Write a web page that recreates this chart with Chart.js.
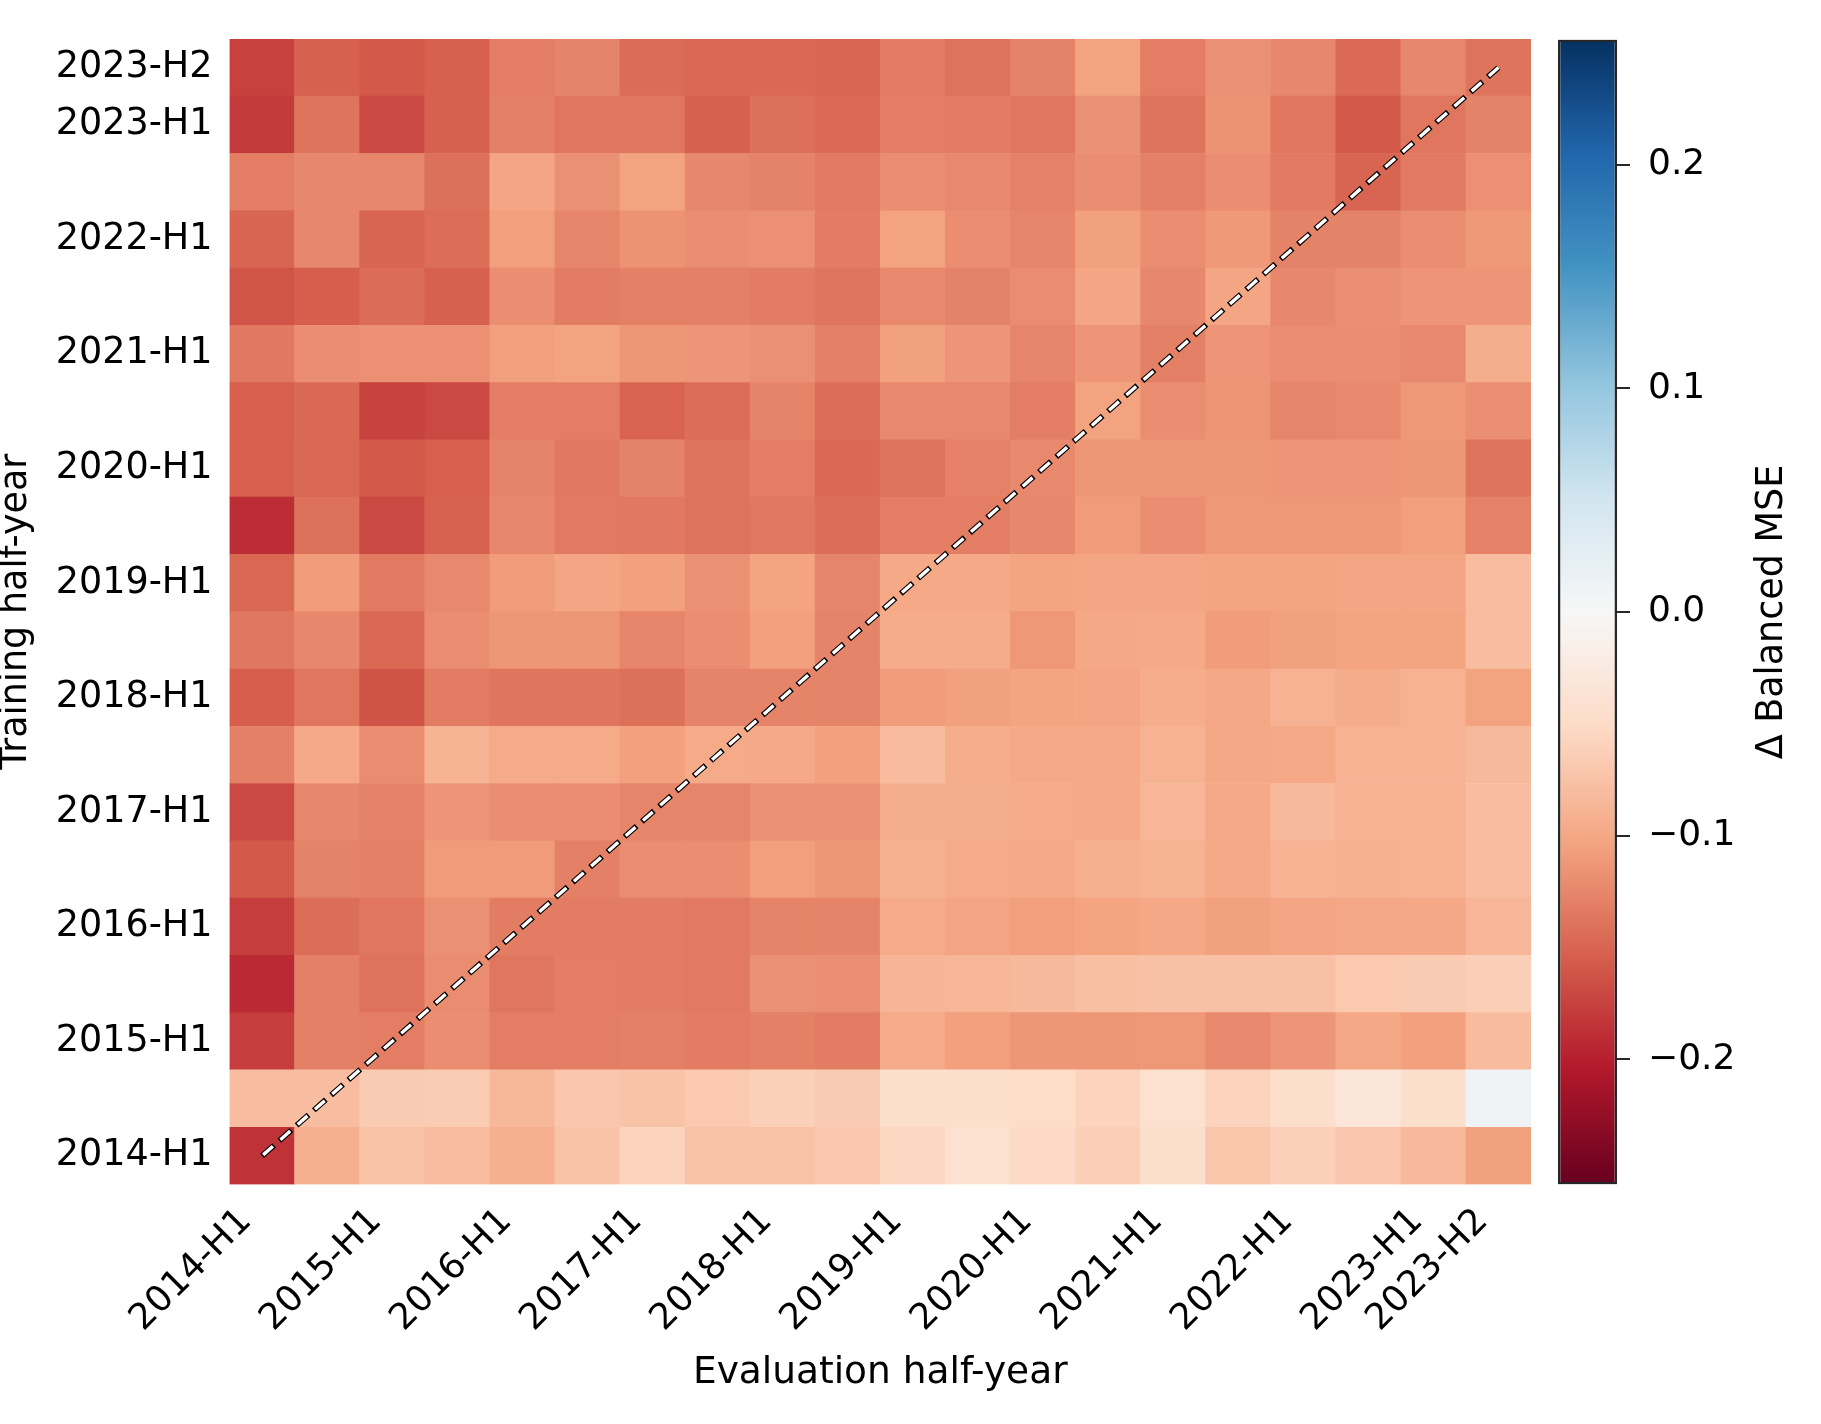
<!DOCTYPE html>
<html>
<head>
<meta charset="utf-8">
<script src="https://cdn.jsdelivr.net/npm/chart.js@4/dist/chart.umd.min.js"></script>
<style>
  html, body { margin: 0; padding: 0; background: #ffffff; }
  #wrap { position: relative; width: 1821px; height: 1424px; overflow: hidden; background: #ffffff; }
  #main { position: absolute; left: 0; top: 0; }
  #cbar { position: absolute; left: 1540px; top: 0; }
</style>
</head>
<body>
<div id="wrap">
  <canvas id="main" width="1821" height="1424"></canvas>
  <canvas id="cbar" width="281" height="1424"></canvas>
</div>
<script>
// ---------------- data ----------------
// half-year periods, oldest first (x: evaluation, y: training, bottom = oldest)
const periods = ['2014-H1','2014-H2','2015-H1','2015-H2','2016-H1','2016-H2','2017-H1','2017-H2',
                 '2018-H1','2018-H2','2019-H1','2019-H2','2020-H1','2020-H2','2021-H1','2021-H2',
                 '2022-H1','2022-H2','2023-H1','2023-H2'];
const evalLabels = periods;
const trainLabels = periods;
const xTickLabels = ['2014-H1','2015-H1','2016-H1','2017-H1','2018-H1','2019-H1','2020-H1','2021-H1','2022-H1','2023-H1','2023-H2'];
const yTickLabels = ['2014-H1','2015-H1','2016-H1','2017-H1','2018-H1','2019-H1','2020-H1','2021-H1','2022-H1','2023-H1','2023-H2'];

// Δ Balanced MSE, one row per training half-year, listed top (2023-H2) to bottom (2014-H1);
// columns = evaluation half-years 2014-H1 .. 2023-H2
const deltaMSE = [
  /* 2023-H2 */ [-0.175,-0.153,-0.158,-0.153,-0.131,-0.127,-0.145,-0.147,-0.147,-0.149,-0.133,-0.140,-0.128,-0.104,-0.131,-0.117,-0.124,-0.146,-0.124,-0.139],
  /* 2023-H1 */ [-0.180,-0.139,-0.170,-0.153,-0.130,-0.137,-0.137,-0.153,-0.142,-0.146,-0.131,-0.133,-0.137,-0.117,-0.139,-0.116,-0.137,-0.158,-0.137,-0.128],
  /* 2022-H2 */ [-0.132,-0.124,-0.124,-0.142,-0.102,-0.117,-0.104,-0.124,-0.128,-0.134,-0.120,-0.123,-0.129,-0.120,-0.130,-0.120,-0.134,-0.150,-0.134,-0.118],
  /* 2022-H1 */ [-0.150,-0.124,-0.150,-0.143,-0.107,-0.126,-0.116,-0.120,-0.118,-0.133,-0.104,-0.120,-0.126,-0.105,-0.120,-0.111,-0.128,-0.128,-0.120,-0.111],
  /* 2021-H2 */ [-0.162,-0.155,-0.145,-0.153,-0.120,-0.133,-0.130,-0.130,-0.133,-0.138,-0.123,-0.128,-0.121,-0.101,-0.124,-0.102,-0.124,-0.119,-0.114,-0.114],
  /* 2021-H1 */ [-0.135,-0.120,-0.118,-0.118,-0.107,-0.104,-0.113,-0.114,-0.117,-0.130,-0.105,-0.114,-0.126,-0.114,-0.130,-0.114,-0.121,-0.120,-0.123,-0.094],
  /* 2020-H2 */ [-0.154,-0.147,-0.175,-0.170,-0.131,-0.131,-0.151,-0.143,-0.127,-0.144,-0.123,-0.123,-0.132,-0.104,-0.120,-0.115,-0.126,-0.123,-0.112,-0.119],
  /* 2020-H1 */ [-0.154,-0.148,-0.158,-0.154,-0.127,-0.135,-0.128,-0.139,-0.131,-0.147,-0.139,-0.129,-0.123,-0.113,-0.113,-0.113,-0.114,-0.114,-0.113,-0.139],
  /* 2019-H2 */ [-0.190,-0.141,-0.170,-0.152,-0.124,-0.134,-0.135,-0.140,-0.135,-0.144,-0.132,-0.132,-0.124,-0.110,-0.120,-0.112,-0.112,-0.112,-0.107,-0.129],
  /* 2019-H1 */ [-0.148,-0.108,-0.134,-0.123,-0.108,-0.101,-0.106,-0.117,-0.103,-0.126,-0.099,-0.099,-0.103,-0.102,-0.101,-0.103,-0.103,-0.102,-0.102,-0.080],
  /* 2018-H2 */ [-0.136,-0.124,-0.147,-0.120,-0.113,-0.113,-0.126,-0.120,-0.106,-0.127,-0.096,-0.096,-0.112,-0.100,-0.099,-0.108,-0.105,-0.103,-0.103,-0.080],
  /* 2018-H1 */ [-0.155,-0.137,-0.163,-0.133,-0.138,-0.138,-0.142,-0.127,-0.127,-0.127,-0.108,-0.105,-0.103,-0.101,-0.095,-0.100,-0.090,-0.096,-0.090,-0.104],
  /* 2017-H2 */ [-0.130,-0.099,-0.121,-0.088,-0.098,-0.098,-0.106,-0.098,-0.099,-0.106,-0.082,-0.095,-0.099,-0.099,-0.090,-0.100,-0.099,-0.090,-0.090,-0.083],
  /* 2017-H1 */ [-0.170,-0.124,-0.129,-0.114,-0.120,-0.120,-0.126,-0.126,-0.117,-0.117,-0.094,-0.094,-0.098,-0.099,-0.086,-0.099,-0.083,-0.090,-0.090,-0.080],
  /* 2016-H2 */ [-0.158,-0.128,-0.130,-0.110,-0.110,-0.130,-0.120,-0.120,-0.107,-0.113,-0.091,-0.098,-0.099,-0.093,-0.089,-0.099,-0.090,-0.091,-0.090,-0.080],
  /* 2016-H1 */ [-0.178,-0.144,-0.137,-0.117,-0.133,-0.133,-0.133,-0.134,-0.127,-0.127,-0.098,-0.102,-0.107,-0.103,-0.100,-0.105,-0.102,-0.100,-0.100,-0.086],
  /* 2015-H2 */ [-0.192,-0.130,-0.140,-0.121,-0.137,-0.131,-0.133,-0.134,-0.117,-0.119,-0.087,-0.086,-0.083,-0.078,-0.077,-0.077,-0.077,-0.068,-0.066,-0.063],
  /* 2015-H1 */ [-0.178,-0.130,-0.131,-0.120,-0.131,-0.131,-0.130,-0.133,-0.130,-0.133,-0.098,-0.106,-0.113,-0.113,-0.112,-0.123,-0.114,-0.100,-0.106,-0.082],
  /* 2014-H2 */ [-0.080,-0.080,-0.066,-0.065,-0.085,-0.070,-0.074,-0.068,-0.062,-0.066,-0.045,-0.045,-0.050,-0.058,-0.042,-0.058,-0.046,-0.032,-0.045, 0.010],
  /* 2014-H1 */ [-0.186,-0.092,-0.074,-0.080,-0.092,-0.074,-0.058,-0.074,-0.076,-0.069,-0.055,-0.041,-0.052,-0.064,-0.046,-0.072,-0.062,-0.070,-0.084,-0.105]
];

const colorbarTicks = [-0.2, -0.1, 0.0, 0.1, 0.2];
const colorLimit = 0.256;          // symmetric colour range (vmin = -vmax)
const colorbarLabel = '\u0394 Balanced MSE';
const xTitle = 'Evaluation half-year';
const yTitle = 'Training half-year';

// ---------------- colormap (matplotlib RdBu) ----------------
const rdbuStops = ['#67001f','#b2182b','#d6604d','#f4a582','#fddbc7','#f7f7f7',
                   '#d1e5f0','#92c5de','#4393c3','#2166ac','#053061'];
function hexToRgb(h) { return [parseInt(h.slice(1,3),16), parseInt(h.slice(3,5),16), parseInt(h.slice(5,7),16)]; }
const rdbuRgb = rdbuStops.map(hexToRgb);
function rdbu(v) {
  let t = (v + colorLimit) / (2 * colorLimit);
  t = Math.max(0, Math.min(1, t));
  const p = t * 10;
  const i = Math.min(9, Math.floor(p));
  const f = p - i;
  const a = rdbuRgb[i], b = rdbuRgb[i + 1];
  const c = a.map((x, k) => Math.round(x + (b[k] - x) * f));
  return 'rgb(' + c.join(',') + ')';
}

// ---------------- main heatmap ----------------
Chart.defaults.font.family = "'DejaVu Sans', 'Liberation Sans', sans-serif";
Chart.defaults.font.size = 36;
Chart.defaults.color = '#000000';

const nRows = trainLabels.length;
const cellDatasets = trainLabels.map((lab, r) => ({
  type: 'bar',
  label: lab,
  data: evalLabels.map(() => [r, r + 1]),
  backgroundColor: deltaMSE[nRows - 1 - r].map(rdbu),
  borderWidth: 0,
  grouped: false,
  barPercentage: 1,
  categoryPercentage: 1,
  order: 3
}));

const diagStart = { x: evalLabels[0], y: 0.5 };
const diagEnd = { x: evalLabels[evalLabels.length - 1], y: trainLabels.length - 0.5 };

const diagWhite = {
  type: 'line', data: [diagStart, diagEnd],
  borderColor: '#ffffff', borderWidth: 3.4, borderDash: [13, 10], borderDashOffset: -1.5,
  pointRadius: 0, fill: false, tension: 0, order: 0, borderCapStyle: 'butt'
};
const diagBlack = {
  type: 'line', data: [diagStart, diagEnd],
  borderColor: '#000000', borderWidth: 5.6, borderDash: [16, 7], borderDashOffset: 0,
  pointRadius: 0, fill: false, tension: 0, order: 1, borderCapStyle: 'butt'
};

new Chart(document.getElementById('main'), {
  type: 'bar',
  data: { labels: evalLabels, datasets: [diagWhite, diagBlack, ...cellDatasets] },
  options: {
    responsive: false,
    animation: false,
    devicePixelRatio: 1,
    layout: { padding: { left: 0, top: 29.5, right: 290, bottom: 0 } },
    plugins: { legend: { display: false }, tooltip: { enabled: false } },
    scales: {
      x: {
        type: 'category',
        offset: true,
        grid: { display: false, drawTicks: false },
        border: { display: false },
        ticks: {
          autoSkip: false, minRotation: 45, maxRotation: 45, padding: 16, labelOffset: -16,
          color: '#000000', font: { size: 36 },
          callback: (v) => evalLabels[v]
        },
        afterBuildTicks: (ax) => { ax.ticks = ax.ticks.filter(t => xTickLabels.includes(evalLabels[t.value])); },
        afterFit: (ax) => { ax.height = 1424 - 1184.5; },
        title: { display: true, text: xTitle, color: '#000000', font: { size: 37.5 }, padding: { top: 0, bottom: 28 } }
      },
      y: {
        type: 'linear',
        min: 0, max: trainLabels.length,
        grid: { display: false, drawTicks: false },
        border: { display: false },
        ticks: {
          autoSkip: false, padding: 17, color: '#000000', font: { size: 36.5 },
          callback: (v) => trainLabels[Math.floor(v)]
        },
        afterBuildTicks: (ax) => { ax.ticks = yTickLabels.map(l => ({ value: trainLabels.indexOf(l) + 0.5 })); },
        afterFit: (ax) => { ax.width = 229.5; },
        title: { display: true, text: yTitle, color: '#000000', font: { size: 36.5, lineHeight: 0.9 }, padding: { top: 0, bottom: 0 } }
      }
    }
  }
});

// ---------------- colorbar ----------------
const cbTitlePlugin = {
  id: 'cbTitle',
  afterDraw(chart) {
    const ys = chart.scales.y;
    const ctx = chart.ctx;
    ctx.save();
    ctx.translate(ys.right - 48, (chart.chartArea.top + chart.chartArea.bottom) / 2);
    ctx.rotate(-Math.PI / 2);
    ctx.font = "36.5px 'DejaVu Sans', sans-serif";
    ctx.fillStyle = '#000000';
    ctx.textAlign = 'center';
    ctx.textBaseline = 'middle';
    ctx.fillText(colorbarLabel, 0, 0);
    ctx.restore();
  }
};

new Chart(document.getElementById('cbar'), {
  type: 'bar',
  data: {
    labels: ['colorbar'],
    datasets: [{
      data: [[-colorLimit, colorLimit]],
      backgroundColor: (ctx) => {
        const chart = ctx.chart;
        const area = chart.chartArea;
        if (!area) return 'rgba(0,0,0,0)';
        const ys = chart.scales.y;
        const g = chart.ctx.createLinearGradient(0, ys.getPixelForValue(-colorLimit), 0, ys.getPixelForValue(colorLimit));
        rdbuStops.forEach((c, i) => g.addColorStop(i / (rdbuStops.length - 1), c));
        return g;
      },
      borderColor: '#262626',
      borderWidth: 2.5,
      borderSkipped: false,
      inflateAmount: 0,
      barPercentage: 1,
      categoryPercentage: 1
    }]
  },
  options: {
    responsive: false,
    animation: false,
    devicePixelRatio: 1,
    layout: { padding: { left: 18, top: 29.5, right: 0, bottom: 1424 - 1184.5 } },
    plugins: { legend: { display: false }, tooltip: { enabled: false } },
    scales: {
      x: { display: false },
      y: {
        position: 'right',
        min: -colorLimit, max: colorLimit,
        afterBuildTicks: (ax) => { ax.ticks = colorbarTicks.map(v => ({ value: v })); },
        afterFit: (ax) => { ax.width = 281 - 77; },
        grid: { drawOnChartArea: false, drawTicks: true, tickLength: 13, color: '#262626', lineWidth: 2 },
        border: { display: false },
        ticks: {
          padding: 18, color: '#000000', font: { size: 36 },
          callback: (v) => (v < 0 ? '\u2212' : '') + Math.abs(v).toFixed(1)
        }
      }
    }
  },
  plugins: [cbTitlePlugin]
});
</script>
</body>
</html>
